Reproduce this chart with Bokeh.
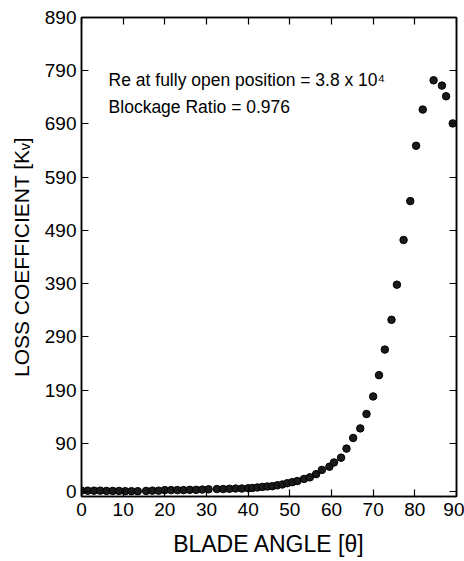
from bokeh.plotting import figure
from bokeh.models import FixedTicker, LinearAxis, Label
from bokeh.embed import file_html
from bokeh.resources import INLINE

# Data
blade_angle = [0, 1.5, 3, 4.5, 6, 7.5, 9, 10.5, 12, 13.5, 15.5, 17, 18.5, 20,
               21.5, 23, 24.5, 26, 27.5, 29, 30.5, 32.5, 34, 35.5, 37, 38.5,
               40, 41, 42.2, 43.4, 44.6, 45.8, 47, 48.2, 49.4, 50.6, 51.8,
               53.4, 54.8, 56.3, 57.7, 59.5, 60.6, 62.3, 63.6, 65.2, 66.9,
               68.4, 70.0, 71.4, 72.8, 74.4, 75.7, 77.3, 78.9, 80.3, 81.9,
               84.5, 86.5, 87.5, 89.1]
loss_coeff = [1, 1, 1, 1, 0.5, 0.5, 0.5, 0, 0, 0, 0.5, 1, 1, 2,
              2, 2, 2, 2.5, 2.5, 3, 3.5, 4, 4, 4.5, 5, 5,
              5.5, 6, 7, 8, 8.8, 9.4, 11, 12.6, 15, 17, 19,
              23, 26, 32, 40, 46, 54, 63, 80, 100, 118,
              145, 178, 218, 266, 322, 388, 472, 545, 649, 717,
              772, 762, 742, 691]

x_ticks = [0, 10, 20, 30, 40, 50, 60, 70, 80, 90]
y_ticks = [0, 90, 190, 290, 390, 490, 590, 690, 790, 890]

FONT = "Liberation Sans"

p = figure(width=464, height=561, output_backend="svg", toolbar_location=None,
           x_range=(0, 90), y_range=(-10, 890),
           min_border_left=81, min_border_right=8, min_border_top=17,
           min_border_bottom=65)
p.background_fill_color = "white"
p.border_fill_color = "white"
p.grid.visible = False
p.outline_line_color = "black"
p.outline_line_width = 1.5

def style_axis(ax, ticks, labels=True):
    ax.axis_line_color = "black"
    ax.axis_line_width = 1.5
    ax.major_tick_in = 7
    ax.major_tick_out = 0
    ax.minor_tick_line_color = None
    ax.major_tick_line_color = "black"
    ax.major_tick_line_width = 1.2
    ax.major_label_text_font = FONT
    ax.major_label_text_color = "black"
    ax.major_label_text_font_size = "19px"
    if not labels:
        ax.major_label_overrides = {t: "" for t in ticks}
        ax.major_label_standoff = 0

xa = p.xaxis[0]
ya = p.yaxis[0]
xa.ticker = FixedTicker(ticks=x_ticks)
ya.ticker = FixedTicker(ticks=y_ticks)
style_axis(xa, x_ticks)
style_axis(ya, y_ticks)
xa.major_label_standoff = 6
ya.major_label_standoff = 5

xa.axis_label = "BLADE ANGLE [θ]"
xa.axis_label_text_font = FONT
xa.axis_label_text_font_size = "23px"
xa.axis_label_text_font_style = "normal"
xa.axis_label_text_color = "black"
xa.axis_label_standoff = 12

ya.axis_label = "LOSS COEFFICIENT [Kᵥ]"
ya.axis_label_text_font = FONT
ya.axis_label_text_font_size = "21px"
ya.axis_label_text_font_style = "normal"
ya.axis_label_text_color = "black"
ya.axis_label_standoff = 9

top = LinearAxis(ticker=FixedTicker(ticks=x_ticks))
style_axis(top, x_ticks, labels=False)
p.add_layout(top, "above")
right = LinearAxis(ticker=FixedTicker(ticks=y_ticks))
style_axis(right, y_ticks, labels=False)
p.add_layout(right, "right")

p.scatter(blade_angle, loss_coeff, size=7.5, marker="circle",
          fill_color="#1a1a1a", line_color="black", line_width=1)

p.add_layout(Label(x=6.5, y=772, text="Re at fully open position = 3.8 x 10⁴",
                   text_font=FONT, text_font_size="17.5px", text_color="black",
                   text_baseline="middle", text_align="left"))
p.add_layout(Label(x=6.5, y=721, text="Blockage Ratio = 0.976",
                   text_font=FONT, text_font_size="17.5px", text_color="black",
                   text_baseline="middle", text_align="left"))

open("out.html", "w").write(file_html(p, INLINE))
